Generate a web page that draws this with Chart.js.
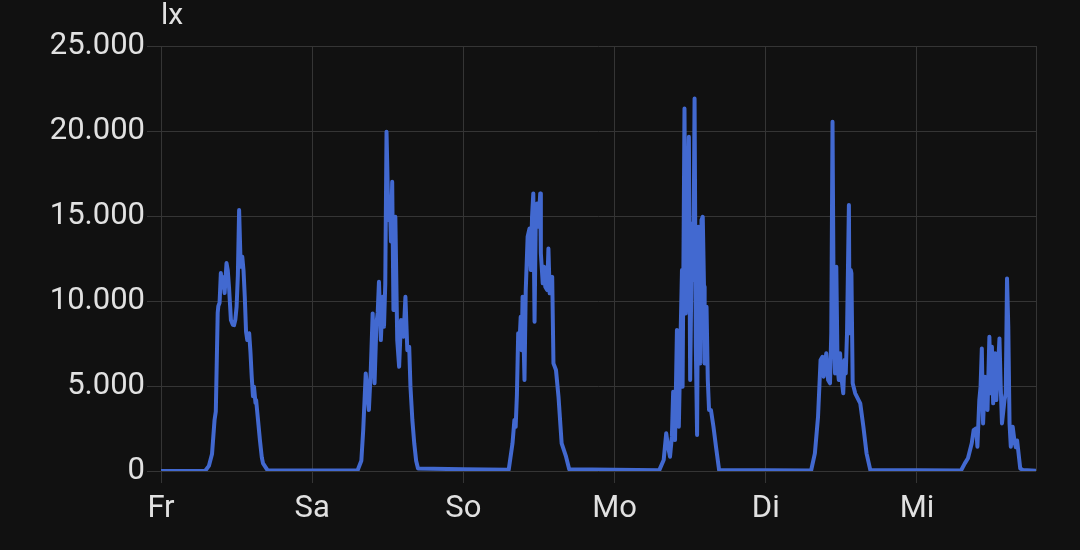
<!DOCTYPE html>
<html><head><meta charset="utf-8">
<script src="https://cdn.jsdelivr.net/npm/chart.js@4/dist/chart.umd.min.js"></script>
<style>html,body{margin:0;padding:0;background:#111111;overflow:hidden}#wrap{width:1080px;height:550px;position:relative}</style>
</head><body><div id="wrap"><canvas id="c" width="1080" height="550"></canvas></div>
<script>
const dayLabels = ['Fr', 'Sa', 'So', 'Mo', 'Di', 'Mi'];
const dayTickHours = [0, 24, 48, 72, 96, 120];
const yTickValues = [0, 5000, 10000, 15000, 20000, 25000];
const unitLabel = 'lx';

// hours since Friday 00:00
const friHours = [0, 7.0, 7.6, 8.1, 8.5, 8.7, 9.0, 9.1, 9.3, 9.5, 9.7, 9.9, 10.1, 10.4, 10.6, 10.8, 11.1, 11.4, 11.6, 11.8, 12.0, 12.2, 12.4, 12.65, 12.9, 13.1, 13.3, 13.5, 13.7, 14.0, 14.2, 14.4, 14.6, 14.76, 15.0, 15.1, 15.4, 15.7, 16.0, 16.2, 16.9, 24, 31.2];
const friLux   = [0, 0, 300, 1000, 3000, 3500, 9300, 9700, 9900, 11640, 10800, 11400, 10470, 12230, 11800, 10800, 8880, 8600, 8580, 8900, 9660, 11500, 15350, 12010, 12600, 11800, 10250, 8200, 7700, 8100, 7000, 5550, 4400, 4960, 4000, 4170, 3000, 1820, 800, 450, 50, 30, 30];

const satHours = [31.8, 32.1, 32.5, 32.8, 33.0, 33.3, 33.6, 33.9, 34.2, 34.4, 34.6, 34.9, 35.2, 35.4, 35.6, 35.8, 36.1, 36.35, 36.5, 36.7, 36.9, 37.2, 37.5, 37.8, 38.1, 38.5, 38.8, 39.1, 39.4, 39.6, 39.9, 40.2, 40.5, 40.8, 48, 55.2];
const satLux   = [600, 2400, 5740, 4500, 3590, 5940, 9270, 5160, 8680, 9300, 11130, 7700, 10250, 8490, 11000, 19950, 14760, 15740, 13500, 17010, 9470, 14950, 7700, 6130, 8880, 7900, 10250, 7110, 7310, 4960, 3000, 1630, 600, 150, 100, 80];

const sunHours = [55.8, 56.1, 56.3, 56.5, 56.7, 56.9, 57.1, 57.25, 57.4, 57.7, 57.9, 58.2, 58.5, 58.7, 58.9, 59.1, 59.3, 59.5, 59.7, 59.9, 60.2, 60.3, 60.6, 60.8, 61.0, 61.3, 61.5, 61.7, 62.1, 62.3, 62.7, 63.1, 63.6, 64.3, 64.8, 72, 79.1];
const sunLux   = [1630, 3000, 2600, 4500, 8100, 7500, 9070, 7110, 10250, 5350, 10640, 13780, 14270, 11820, 14950, 16330, 8780, 15150, 15740, 14370, 16330, 12800, 11040, 12010, 10840, 10640, 13090, 10450, 11420, 6330, 5940, 4370, 1630, 840, 100, 80, 50];

const monHours = [79.8, 80.2, 80.5, 80.8, 81.1, 81.3, 81.6, 81.9, 82.2, 82.5, 82.7, 82.8, 83.1, 83.3, 83.5, 83.8, 84.0, 84.3, 84.5, 84.7, 84.9, 85.1, 85.3, 85.6, 85.8, 86.0, 86.2, 86.3, 86.6, 86.8, 87.0, 87.3, 87.7, 88.1, 88.6, 96, 103.2];
const monLux   = [650, 2220, 1430, 840, 2020, 4660, 1820, 8290, 2600, 8290, 11820, 4960, 21330, 9270, 13190, 19660, 5350, 14560, 11230, 21910, 7310, 2120, 14370, 6330, 14760, 14950, 10840, 6330, 9660, 5350, 3590, 3590, 2600, 1430, 50, 40, 30];

const tueHours = [103.8, 104.3, 104.7, 105.0, 105.2, 105.6, 105.9, 106.2, 106.4, 106.6, 106.8, 107.0, 107.2, 107.4, 107.6, 107.8, 108.0, 108.3, 108.5, 108.7, 108.9, 109.2, 109.3, 109.5, 109.6, 109.8, 110.2, 111.0, 111.5, 112.0, 112.6, 120, 127.0];
const tueLux   = [1040, 3190, 6530, 6720, 5550, 6920, 5350, 5160, 8100, 20540, 8490, 5740, 12010, 6130, 5350, 6920, 5550, 4570, 6530, 5740, 8100, 15640, 8100, 11820, 11620, 5160, 4570, 3980, 2600, 1040, 50, 40, 30];

const wedHours = [127.6, 128.1, 128.7, 129.0, 129.4, 129.6, 129.9, 130.1, 130.3, 130.5, 130.8, 131.2, 131.5, 131.7, 131.9, 132.1, 132.4, 132.6, 133.1, 133.3, 133.5, 133.9, 134.1, 134.3, 134.5, 134.7, 134.9, 135.2, 135.5, 135.7, 135.9, 136.4, 136.8, 138.9];
const wedLux   = [450, 750, 1630, 2400, 2510, 1430, 4170, 4960, 7210, 2800, 5550, 3590, 7900, 4570, 7310, 3980, 6920, 4170, 7800, 4960, 2800, 4170, 4570, 11330, 8490, 2800, 1430, 2600, 1700, 1400, 1800, 150, 60, 20];

const hours = [].concat(friHours, satHours, sunHours, monHours, tueHours, wedHours);
const lux = [].concat(friLux, satLux, sunLux, monLux, tueLux, wedLux);
const xMax = 138.9;

const points = hours.map((h, i) => ({x: h, y: lux[i]}));
const gridColor = '#353535';
const textColor = '#e1e1e1';
const fontFamily = 'Roboto, "Noto Sans", sans-serif';

function fmt(v) {
  if (v === 0) return '0';
  const s = String(Math.round(v));
  return s.replace(/\B(?=(\d{3})+(?!\d))/g, '.');
}

const unitPlugin = {
  id: 'unitLabel',
  afterDraw(chart) {
    const ctx = chart.ctx;
    ctx.save();
    ctx.font = '30px ' + fontFamily;
    ctx.fillStyle = textColor;
    ctx.textAlign = 'left';
    ctx.textBaseline = 'alphabetic';
    ctx.fillText(unitLabel, chart.chartArea.left, 24);
    ctx.restore();
  }
};

new Chart(document.getElementById('c'), {
  type: 'line',
  data: {
    datasets: [{
      data: points,
      borderColor: '#4269d0',
      backgroundColor: '#4269d0',
      borderWidth: 4,
      borderJoinStyle: 'round',
      borderCapStyle: 'round',
      pointRadius: 0,
      tension: 0,
      fill: false
    }]
  },
  options: {
    responsive: false,
    animation: false,
    devicePixelRatio: 1,
    layout: {padding: {top: 46, right: 44, left: 0, bottom: 0}},
    plugins: {legend: {display: false}, tooltip: {enabled: false}},
    scales: {
      x: {
        type: 'linear',
        min: 0,
        max: xMax,
        afterFit(scale) { scale.height = 79; },
        afterBuildTicks(scale) {
          scale.ticks = dayTickHours.map(v => ({value: v})).concat([{value: xMax}]);
        },
        border: {display: false},
        grid: {
          color: gridColor,
          lineWidth: 1,
          tickLength: 12,
          tickColor: (ctx) => (ctx.tick && dayTickHours.indexOf(ctx.tick.value) >= 0) ? gridColor : 'rgba(0,0,0,0)'
        },
        ticks: {
          autoSkip: false,
          maxRotation: 0,
          color: textColor,
          padding: 8,
          font: {family: fontFamily, size: 31},
          callback: (v) => {
            const i = dayTickHours.indexOf(v);
            return i >= 0 ? dayLabels[i] : '';
          }
        }
      },
      y: {
        min: 0,
        max: 25000,
        afterFit(scale) { scale.width = 161; },
        afterBuildTicks(scale) { scale.ticks = yTickValues.map(v => ({value: v})); },
        border: {display: false},
        grid: {color: gridColor, lineWidth: 1, tickLength: 14},
        ticks: {
          color: textColor,
          padding: 2,
          font: {family: fontFamily, size: 31},
          callback: (v) => fmt(v)
        }
      }
    }
  },
  plugins: [unitPlugin]
});
</script>
</body></html>
